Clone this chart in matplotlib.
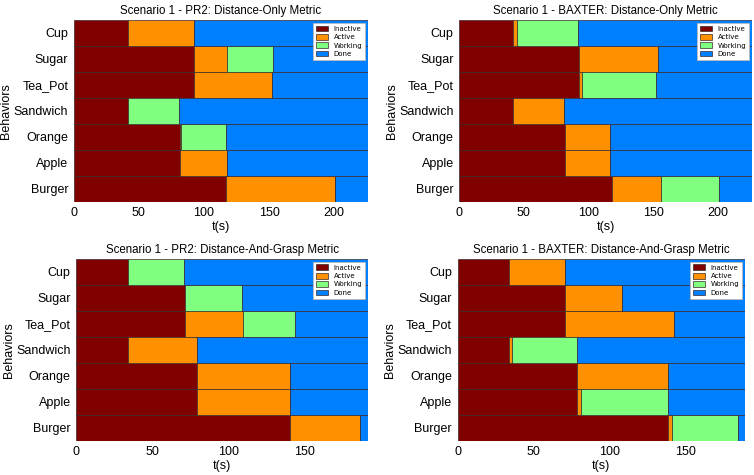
import matplotlib
matplotlib.use("Agg")
import matplotlib.pyplot as plt
import numpy as np

plt.rcParams['font.family'] = ['Liberation Sans', 'DejaVu Sans']

# behaviours, bottom to top
behaviors = ["Burger", "Apple", "Orange", "Sandwich", "Tea_Pot", "Sugar", "Cup"]
states = ["Inactive", "Active", "Working", "Done"]
state_colors = ["#800000", "#ff9000", "#80ff80", "#0080ff"]

# end times (s) of Inactive / Active / Working for each behaviour; Done lasts to the end
pr2_dist_inactive = [117.2, 81.3, 81.5, 41.8, 92.6, 92.6, 41.3]
pr2_dist_active   = [200.8, 117.7, 82.3, 41.8, 152.6, 117.4, 92.0]
pr2_dist_working  = [200.8, 117.7, 117.0, 80.8, 152.6, 153.3, 92.0]
pr2_dist_end = 226

baxter_dist_inactive = [117.7, 82.0, 82.0, 41.6, 92.3, 92.3, 41.6]
baxter_dist_active   = [155.8, 116.5, 116.5, 80.7, 95.1, 153.2, 44.7]
baxter_dist_working  = [200.8, 116.5, 116.5, 80.7, 152.2, 153.2, 92.0]
baxter_dist_end = 226

pr2_grasp_inactive = [140.8, 79.8, 79.8, 33.8, 71.5, 71.5, 34.0]
pr2_grasp_active   = [186.6, 140.4, 140.4, 79.8, 110.0, 71.5, 34.0]
pr2_grasp_working  = [186.6, 140.4, 140.4, 79.8, 144.3, 109.4, 71.0]
pr2_grasp_end = 192

baxter_grasp_inactive = [138.7, 78.2, 78.7, 33.8, 70.5, 70.5, 33.8]
baxter_grasp_active   = [141.3, 81.3, 138.2, 35.8, 142.4, 107.9, 70.3]
baxter_grasp_working  = [184.2, 138.2, 138.2, 78.5, 142.4, 107.9, 70.3]
baxter_grasp_end = 189

panels = [
    ("Scenario 1 - PR2: Distance-Only Metric",
     pr2_dist_inactive, pr2_dist_active, pr2_dist_working, pr2_dist_end, [0.098, 0.575, 0.390, 0.383]),
    ("Scenario 1 - BAXTER: Distance-Only Metric",
     baxter_dist_inactive, baxter_dist_active, baxter_dist_working, baxter_dist_end, [0.609, 0.575, 0.388, 0.383]),
    ("Scenario 1 - PR2: Distance-And-Grasp Metric",
     pr2_grasp_inactive, pr2_grasp_active, pr2_grasp_working, pr2_grasp_end, [0.101, 0.072, 0.387, 0.383]),
    ("Scenario 1 - BAXTER: Distance-And-Grasp Metric",
     baxter_grasp_inactive, baxter_grasp_active, baxter_grasp_working, baxter_grasp_end, [0.607, 0.072, 0.381, 0.383]),
]

fig = plt.figure(figsize=(7.54, 4.75), dpi=100)

for title, ina, act, wrk, end, rect in panels:
    ax = fig.add_axes(rect)
    y = np.arange(len(behaviors))
    ina = np.array(ina)
    act = np.array(act)
    wrk = np.array(wrk)
    starts = [np.zeros(len(y)), ina, act, wrk]
    stops = [ina, act, wrk, np.full(len(y), end)]
    for s, (a, b) in enumerate(zip(starts, stops)):
        ax.barh(y, b - a, left=a, height=1.0, color=state_colors[s],
                edgecolor="#3a2a2a", linewidth=0.5, label=states[s])
    ax.set_xlim(0, end)
    ax.set_xticks(np.arange(0, end, 50))
    ax.set_ylim(-0.5, len(behaviors) - 0.5)
    ax.set_yticks(y)
    ax.set_yticklabels(behaviors)
    ax.tick_params(length=0, labelsize=9, pad=4)
    for sp in ax.spines.values():
        sp.set_visible(False)
    ax.set_title(title, fontsize=8.3, pad=4)
    ax.set_xlabel("t(s)", fontsize=9, labelpad=1)
    ax.set_ylabel("Behaviors", fontsize=9, labelpad=1)
    leg = ax.legend(loc="upper right", frameon=True, fancybox=False, framealpha=1,
                    handlelength=1.8, handleheight=0.9, borderpad=0.4,
                    labelspacing=0.3, borderaxespad=0.4,
                    prop={'family': 'DejaVu Sans', 'size': 5})
    leg.get_frame().set_edgecolor("#bbbbbb")
    leg.get_frame().set_linewidth(0.6)

fig.savefig("out.png", dpi=100)
